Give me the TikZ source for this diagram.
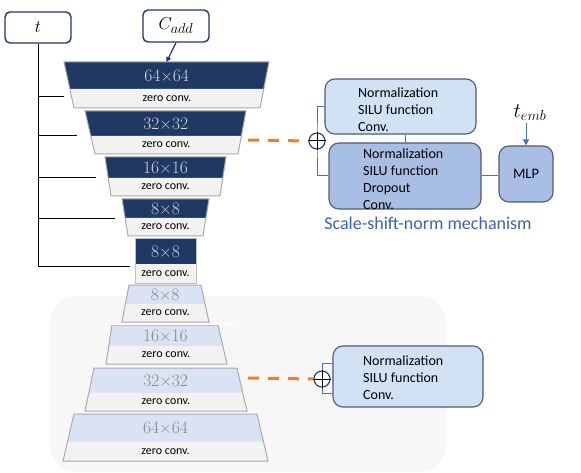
\documentclass[tikz,border=0pt]{standalone}
\usepackage{fontspec}
\newfontfamily\calfont{Carlito}
\usetikzlibrary{calc,arrows.meta}
\definecolor{navy}{HTML}{203864}
\definecolor{enctxt}{HTML}{D6D6D6}
\definecolor{zerofillc}{HTML}{F2F2F2}
\definecolor{edgegray}{HTML}{ABABAB}
\definecolor{edgeblue}{HTML}{B4C0D4}
\definecolor{decfillc}{HTML}{DAE3F3}
\definecolor{dectxt}{HTML}{858585}
\definecolor{lightbox}{HTML}{D0E2F4}
\definecolor{midbox}{HTML}{A9BEE4}
\definecolor{boxedge}{HTML}{4D5B75}
\definecolor{linkblue}{HTML}{4472C4}
\definecolor{orangec}{HTML}{ED7D31}
\definecolor{captblue}{HTML}{3B64AD}
\definecolor{bgc}{HTML}{F7F7F7}
\newcommand\trapblock[9]{%
 \pgfmathsetmacro\tbf{(#3-#2)/(#4-#2)}%
 \pgfmathsetmacro\tbml{#5+(#7-#5)*\tbf}%
 \pgfmathsetmacro\tbmr{#6+(#8-#6)*\tbf}%
 \fill[#9top] (#5,#2) -- (#6,#2) -- (\tbmr,#3) -- (\tbml,#3) -- cycle;
 \fill[zerofill] (\tbml,#3) -- (\tbmr,#3) -- (#8,#4) -- (#7,#4) -- cycle;
 \draw[#9edge] (#5,#2) -- (#6,#2) -- (#8,#4) -- (#7,#4) -- cycle;
 \coordinate (#1-a) at ({(#5+#6+\tbml+\tbmr)/4},{(#2+#3)/2});
 \coordinate (#1-b) at ({(#7+#8+\tbml+\tbmr)/4},{(#3+#4)/2});
 \coordinate (#1-top) at ({(#5+#6)/2},#2);
}
\begin{document}
\begin{tikzpicture}[x=1pt,y=-1pt,
  enctop/.style={fill=navy},
  encbtop/.style={fill=navy},
  dectop/.style={fill=decfillc},
  zerofill/.style={fill=zerofillc},
  encedge/.style={draw=edgegray,line width=1pt},
  encbedge/.style={draw=edgeblue,line width=1pt},
  decedge/.style={draw=edgegray,line width=1pt},
  enclab/.style={text=enctxt,font=\fontsize{17.5}{19}\selectfont,inner sep=0pt},
  declab/.style={text=dectxt,font=\fontsize{17.5}{19}\selectfont,inner sep=0pt},
  zlab/.style={text=black,font=\calfont\fontsize{12}{13}\selectfont,inner sep=0pt},
  inbox/.style={draw=navy,line width=1.4pt,fill=white,rounded corners=5pt,inner sep=0pt},
  tline/.style={draw=black,line width=0.9pt},
  blk/.style={draw=boxedge,line width=1.1pt,rounded corners=10pt,inner sep=0pt},
  blktxt/.style={font=\calfont\fontsize{14}{17}\selectfont,align=left,inner sep=0pt,anchor=west},
  bline/.style={draw=linkblue,line width=1pt},
  opl/.style={circle,draw=navy,line width=1.1pt,fill=white,minimum size=16pt,inner sep=0pt},
  odash/.style={draw=orangec,line width=3pt,dash pattern=on 11pt off 9pt},
]
\useasboundingbox (0,0) rectangle (581,473);
% background panel
\fill[bgc,rounded corners=25pt] (50,296) rectangle (446,472);
% encoder
\trapblock{e1}{62}{89}{108}{64}{269}{74}{260}{enc}
\trapblock{e2}{111}{136}{154}{85}{246}{95}{238}{enc}
\trapblock{e3}{157}{178}{196}{105}{226}{111}{220}{enc}
\trapblock{e4}{199}{218}{236}{122}{209}{128}{203}{enc}
\trapblock{e5}{239}{264}{283}{135}{196}{135}{196}{encb}
\node[enclab] (n1) at (e1-a) {64×64};
\node[enclab] (n2) at (e2-a) {32×32};
\node[enclab] (n3) at (e3-a) {16×16};
\node[enclab] (n4) at (e4-a) {8×8};
\node[enclab] (n5) at (e5-a) {8×8};
\node[zlab] (z1) at (e1-b) {zero conv.};
\node[zlab] (z2) at (e2-b) {zero conv.};
\node[zlab] (z3) at (e3-b) {zero conv.};
\node[zlab] (z4) at (e4-b) {zero conv.};
\node[zlab] (z5) at (e5-b) {zero conv.};
% decoder
\trapblock{d1}{285}{304}{322}{129}{201}{122}{209}{dec}
\trapblock{d2}{325}{346}{364}{112}{218}{106}{227}{dec}
\trapblock{d3}{368}{393}{411}{94}{237}{85}{247}{dec}
\trapblock{d4}{414}{442}{461}{74}{257}{63}{268}{dec}
\draw[white,line width=1pt] (101,324) -- (237,324);
\node[declab] (m1) at (d1-a) {8×8};
\node[declab] (m2) at (d2-a) {16×16};
\node[declab] (m3) at (d3-a) {32×32};
\node[declab] (m4) at (d4-a) {64×64};
\node[zlab] (y1) at (d1-b) {zero conv.};
\node[zlab] (y2) at (d2-b) {zero conv.};
\node[zlab] (y3) at (d3-b) {zero conv.};
\node[zlab] (y4) at (d4-b) {zero conv.};
% inputs
\node[inbox,minimum width=66pt,minimum height=31pt] (tbox) at (38,27.5) {\fontsize{18}{20}\selectfont$t$};
\node[inbox,minimum width=66pt,minimum height=32pt] (cadd) at (176,26) {\fontsize{19}{21}\selectfont$C_{add}$};
\draw[navy,line width=1.2pt,-{Triangle[length=5pt,width=5pt]}] (cadd.south) -- (e1-top);
\coordinate (tcorner) at (38,266);
\coordinate (tend) at (130,266);
\coordinate (k1) at (64,96);
\coordinate (k2) at (77,135);
\coordinate (k3) at (96,177);
\coordinate (k4) at (115,218);
\draw[tline] (tbox.south) -- (tcorner) -- (tend);
\draw[tline] (k1 -| tcorner) -- (k1);
\draw[tline] (k2 -| tcorner) -- (k2);
\draw[tline] (k3 -| tcorner) -- (k3);
\draw[tline] (k4 -| tcorner) -- (k4);
% scale-shift-norm block
\node[blk,fill=lightbox,minimum width=151pt,minimum height=55pt] (ba) at (400.5,106.5) {};
\node[blk,fill=midbox,minimum width=152pt,minimum height=66pt] (bb) at (405,176) {};
\node[blk,fill=midbox,minimum width=54pt,minimum height=56pt] (mlp) at (526,174) {};
\node[font=\calfont\fontsize{14.5}{17}\selectfont,inner sep=0pt] (mlpt) at (mlp.center) {MLP};
\node[blktxt] (ta) at (358,109.5) {Normalization\\SILU function\\Conv.};
\node[blktxt] (tb) at (363,179) {Normalization\\SILU function\\Dropout\\Conv.};
\draw[bline] (ba.south -| 405,0) -- (bb.north -| 405,0);
\draw[bline] (bb.east |- 0,176) -- (mlp.west |- 0,176);
\node[inner sep=0pt,font=\fontsize{20}{22}\selectfont] (temb) at (530,113) {$t_{emb}$};
\coordinate (tembarr) at (526,123);
\draw[linkblue,line width=1pt,-{Triangle[length=6pt,width=6pt]}] (tembarr) -- (mlp.north -| tembarr);
\node[text=captblue,font=\calfont\fontsize{18}{20}\selectfont,inner sep=0pt] (capt) at (428,223) {Scale-shift-norm mechanism};
\coordinate (op1c) at (317,141);
\draw[bline] (ba.west |- 0,107) -| (op1c) |- (bb.west);
\node[opl] (op1) at (op1c) {};
\draw[black,line width=1pt] (op1.north) -- (op1.south) (op1.west) -- (op1.east);
\coordinate (ds1) at (248,140);
\draw[odash] (ds1) -- (op1.west);
% bottom block
\node[blk,fill=lightbox,minimum width=150pt,minimum height=61pt] (bc) at (408,376.5) {};
\node[blktxt] (tc) at (363,378) {Normalization\\SILU function\\Conv.};
\coordinate (op2c) at (322,379);
\draw[bline] ($(bc.west)+(0,-13.5)$) -| (op2c) |- ($(bc.west)+(0,16.5)$);
\node[opl] (op2) at (op2c) {};
\draw[black,line width=1pt] (op2.north) -- (op2.south) (op2.west) -- (op2.east);
\coordinate (ds2) at (248,378);
\draw[odash] (ds2) -- (op2.west);
\end{tikzpicture}
\end{document}
